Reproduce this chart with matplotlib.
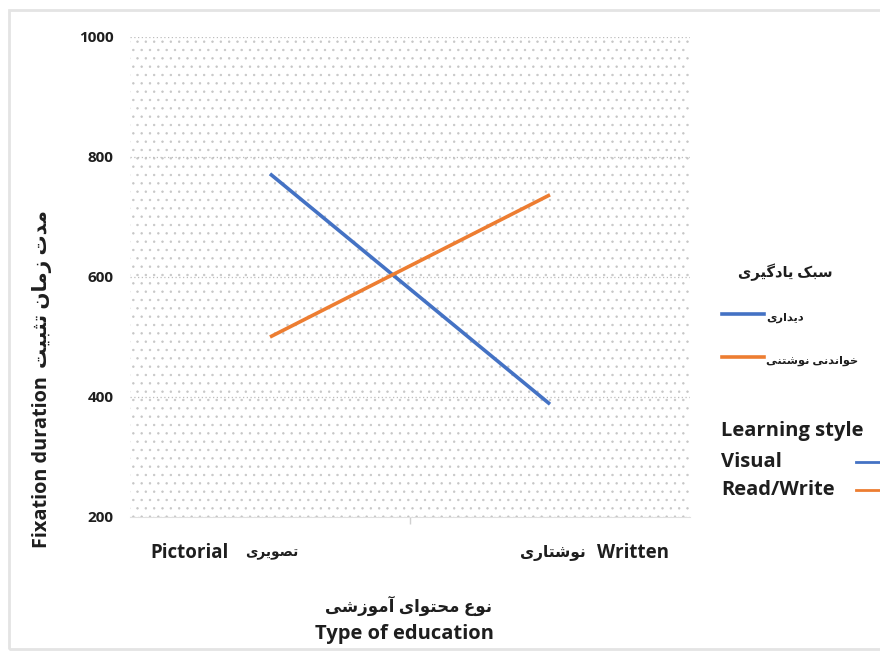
import matplotlib
matplotlib.use("Agg")
import matplotlib.pyplot as plt
from matplotlib.lines import Line2D
from matplotlib.patches import Rectangle
from matplotlib import font_manager
from matplotlib.ft2font import FT2Font

# ---------------- data ----------------
categories = ["Pictorial", "Written"]
categories_fa = ["تصویری", "نوشتاری"]
series_names = ["Visual", "Read/Write"]
series_names_fa = ["دیداری", "خواندنی نوشتنی"]
visual = [772, 388]
read_write = [500, 737]
yticks = [200, 400, 600, 800, 1000]
colors = ["#4472C4", "#ED7D31"]

# ------------- minimal Persian shaping -------------
DUAL = {
    "ب": (0xFE8F, 0xFE90, 0xFE91, 0xFE92),
    "ت": (0xFE95, 0xFE96, 0xFE97, 0xFE98),
    "ث": (0xFE99, 0xFE9A, 0xFE9B, 0xFE9C),
    "ح": (0xFEA1, 0xFEA2, 0xFEA3, 0xFEA4),
    "خ": (0xFEA5, 0xFEA6, 0xFEA7, 0xFEA8),
    "س": (0xFEB1, 0xFEB2, 0xFEB3, 0xFEB4),
    "ش": (0xFEB5, 0xFEB6, 0xFEB7, 0xFEB8),
    "ص": (0xFEB9, 0xFEBA, 0xFEBB, 0xFEBC),
    "ع": (0xFEC9, 0xFECA, 0xFECB, 0xFECC),
    "ل": (0xFEDD, 0xFEDE, 0xFEDF, 0xFEE0),
    "م": (0xFEE1, 0xFEE2, 0xFEE3, 0xFEE4),
    "ن": (0xFEE5, 0xFEE6, 0xFEE7, 0xFEE8),
    "ی": (0xFBFC, 0xFBFD, 0xFBFE, 0xFBFF),
    "ک": (0xFB8E, 0xFB8F, 0xFB90, 0xFB91),
    "گ": (0xFB92, 0xFB93, 0xFB94, 0xFB95),
}
RIGHT = {
    "آ": (0xFE81, 0xFE82),
    "ا": (0xFE8D, 0xFE8E),
    "د": (0xFEA9, 0xFEAA),
    "ر": (0xFEAD, 0xFEAE),
    "ز": (0xFEAF, 0xFEB0),
    "و": (0xFEED, 0xFEEE),
}
FALLBACK = {
    "ی": (0xFEEF, 0xFEF0, 0xFEF3, 0xFEF4),
    "ک": (0xFED9, 0xFEDA, 0xFEDB, 0xFEDC),
    "گ": (0xFED9, 0xFEDA, 0xFEDB, 0xFEDC),
}
try:
    _ft = FT2Font(font_manager.findfont("DejaVu Sans"))
    for k in list(DUAL):
        if any(_ft.get_char_index(c) == 0 for c in DUAL[k]) and k in FALLBACK:
            DUAL[k] = FALLBACK[k]
except Exception:
    pass


def fa(text):
    out = []
    n = len(text)
    for i, ch in enumerate(text):
        prev = text[i - 1] if i > 0 else ""
        nxt = text[i + 1] if i < n - 1 else ""
        jp = prev in DUAL
        if ch in DUAL:
            jn = nxt in DUAL or nxt in RIGHT
            f = DUAL[ch]
            if jp and jn:
                out.append(chr(f[3]))
            elif jp:
                out.append(chr(f[1]))
            elif jn:
                out.append(chr(f[2]))
            else:
                out.append(chr(f[0]))
        elif ch in RIGHT:
            f = RIGHT[ch]
            out.append(chr(f[1] if jp else f[0]))
        else:
            out.append(ch)
    return "".join(reversed(out))


# ---------------- figure ----------------
plt.rcParams["font.family"] = ["Open Sans", "DejaVu Sans"]
plt.rcParams["hatch.linewidth"] = 0.5

TXT = "#1e1e1e"
W, H = 880, 655
fig = plt.figure(figsize=(8.8, 6.55), dpi=100)


def fx(px):
    return px / W


def fy(py):
    return 1 - py / H


fig.patches.append(Rectangle((fx(9), fy(649)), fx(900), fy(10) - fy(649),
                             transform=fig.transFigure, fill=False,
                             edgecolor="#e4e4e4", linewidth=2.0))

ax = fig.add_axes([fx(130), fy(517), fx(690) - fx(130), fy(37) - fy(517)])
ax.patch.set_facecolor("white")
ax.add_patch(Rectangle((0, 0), 1, 1, transform=ax.transAxes, facecolor="none",
                       edgecolor="#c6c6c6", linewidth=0, hatch="..", zorder=0))

x = list(range(len(categories)))
ax.plot(x, visual, color=colors[0], lw=2.6, solid_capstyle="butt", zorder=3)
ax.plot(x, read_write, color=colors[1], lw=2.6, solid_capstyle="butt", zorder=3)

ax.set_xlim(-0.5, len(categories) - 0.5)
ax.set_ylim(min(yticks), max(yticks))
ax.set_yticks(yticks)
ax.set_yticklabels([str(v) for v in yticks], fontsize=11, fontweight="bold",
                   color=TXT)
ax.tick_params(axis="y", length=0, pad=12)
ax.yaxis.grid(True, color="#bdbdbd", linestyle=(0, (1, 2)), linewidth=0.9)
ax.set_axisbelow(True)

ax.set_xticks([0.5])
ax.set_xticklabels([""])
ax.tick_params(axis="x", length=5, color="#d0d0d0", width=1)
for s in ["top", "left", "right"]:
    ax.spines[s].set_visible(False)
ax.spines["bottom"].set_color("#e0e0e0")

# category labels
fig.text(fx(229), fy(553), categories[0], ha="right", va="center",
         fontsize=13.5, fontweight="bold", color=TXT)
fig.text(fx(245), fy(553), fa(categories_fa[0]), ha="left", va="center",
         fontsize=9.8, fontweight="bold", color=TXT)
fig.text(fx(586), fy(553), fa(categories_fa[1]), ha="right", va="center",
         fontsize=11.2, fontweight="bold", color=TXT)
fig.text(fx(597), fy(553), categories[1], ha="left", va="center",
         fontsize=13.5, fontweight="bold", color=TXT)

# axis titles
fig.text(fx(408), fy(606), fa("نوع محتوای آموزشی"), ha="center", va="center",
         fontsize=12, fontweight="bold", color=TXT)
fig.text(fx(404), fy(634), "Type of education", ha="center", va="center",
         fontsize=14.5, fontweight="bold", color=TXT)
fig.text(fx(42), fy(462), "Fixation duration", ha="center", va="center",
         rotation=90, fontsize=14.3, fontweight="bold", color=TXT)
fig.text(fx(42), fy(289), fa("مدت زمان تثبیت"), ha="center", va="center",
         rotation=90, fontsize=14.5, fontweight="bold", color=TXT)

# Persian legend
fig.text(fx(785), fy(272), fa("سبک یادگیری"), ha="center", va="center",
         fontsize=10.5, fontweight="bold", color=TXT)
for i, (name, yy) in enumerate(zip(series_names_fa, [314, 357])):
    fig.add_artist(Line2D([fx(722), fx(764)], [fy(yy), fy(yy)], color=colors[i],
                          lw=2.6, transform=fig.transFigure))
    fig.text(fx(766), fy(yy + 4), fa(name), ha="left", va="center",
             fontsize=8.2, fontweight="bold", color=TXT)

# English legend
fig.text(fx(721), fy(431), "Learning style", ha="left", va="center",
         fontsize=14.5, fontweight="bold", color=TXT)
for i, (name, yy) in enumerate(zip(series_names, [462, 490])):
    fig.text(fx(721), fy(yy), name, ha="left", va="center",
             fontsize=14.5, fontweight="bold", color=TXT)
    fig.add_artist(Line2D([fx(856), fx(882)], [fy(yy), fy(yy)], color=colors[i],
                          lw=2.0, transform=fig.transFigure))

fig.savefig("out.png", dpi=100, facecolor="white")
